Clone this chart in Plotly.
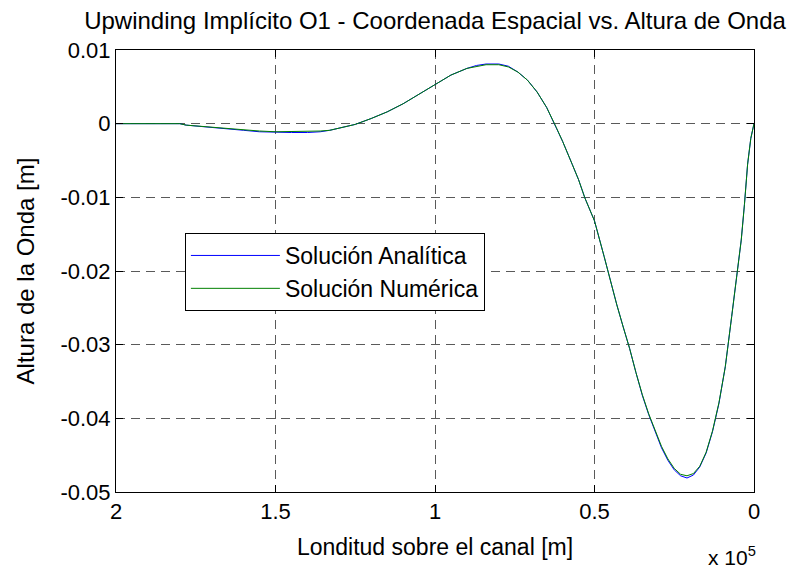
import plotly.graph_objects as go

# Position along the channel (units of 1e5 m) and wave height (m)
x_analitica = [2.00, 1.90, 1.80, 1.78, 1.72, 1.66, 1.60, 1.55, 1.50, 1.45, 1.40, 1.36,
               1.33, 1.29, 1.25, 1.20, 1.15, 1.10, 1.05, 1.00, 0.95, 0.90, 0.87, 0.84,
               0.80, 0.77, 0.74, 0.71, 0.68, 0.65, 0.62, 0.60, 0.57, 0.55, 0.53, 0.50,
               0.47, 0.45, 0.43, 0.41, 0.39, 0.37, 0.35, 0.33, 0.31, 0.29, 0.27, 0.25,
               0.23, 0.21, 0.19, 0.17, 0.15, 0.13, 0.11, 0.09, 0.07, 0.05, 0.04, 0.03,
               0.02, 0.01, 0.00]
y_analitica = [0.0, 0.0, 0.0, -0.0002, -0.0004, -0.0007, -0.0009, -0.0011, -0.0012, -0.0012,
               -0.0012, -0.0011, -0.0009, -0.0005, -0.0001, 0.0007, 0.0016, 0.0027, 0.0040,
               0.0054, 0.0066, 0.0075, 0.0079, 0.0081, 0.0081, 0.0078, 0.0070, 0.0059,
               0.0043, 0.0022, -0.0005, -0.0024, -0.0055, -0.0076, -0.0101, -0.0132,
               -0.0180, -0.0214, -0.0246, -0.0276, -0.0305, -0.0338, -0.0369, -0.0395,
               -0.0418, -0.0440, -0.0457, -0.0470, -0.0478, -0.0481, -0.0477, -0.0466,
               -0.0447, -0.0418, -0.0380, -0.0330, -0.0262, -0.0195, -0.0158, -0.0110,
               -0.0055, -0.0020, 0.0]

x_numerica = list(x_analitica)
y_numerica = [0.0, 0.0, 0.0, -0.0002, -0.0004, -0.0007, -0.0009, -0.0010, -0.0011, -0.0011,
              -0.0011, -0.0010, -0.0009, -0.0005, -0.0001, 0.0007, 0.0016, 0.0027, 0.0040,
              0.0054, 0.0066, 0.0075, 0.0078, 0.0080, 0.0080, 0.0077, 0.0070, 0.0059,
              0.0043, 0.0022, -0.0005, -0.0024, -0.0055, -0.0076, -0.0101, -0.0132,
              -0.0180, -0.0214, -0.0246, -0.0276, -0.0305, -0.0338, -0.0368, -0.0394,
              -0.0417, -0.0438, -0.0455, -0.0468, -0.0476, -0.0478, -0.0475, -0.0465,
              -0.0446, -0.0417, -0.0379, -0.0330, -0.0262, -0.0195, -0.0158, -0.0110,
              -0.0055, -0.0020, 0.0]

x_ticks = [0.0, 0.5, 1.0, 1.5, 2.0]
x_tick_labels = ["0", "0.5", "1", "1.5", "2"]
y_ticks = [-0.05, -0.04, -0.03, -0.02, -0.01, 0.0, 0.01]
y_tick_labels = ["-0.05", "-0.04", "-0.03", "-0.02", "-0.01", "0", "0.01"]

FONT = "Liberation Sans, Arial, sans-serif"

fig = go.Figure()
fig.add_trace(go.Scatter(x=x_analitica, y=y_analitica, mode="lines",
                         name="Solución Analítica",
                         line=dict(color="#0000ff", width=1)))
fig.add_trace(go.Scatter(x=x_numerica, y=y_numerica, mode="lines",
                         name="Solución Numérica",
                         line=dict(color="#008000", width=1)))

axis_common = dict(
    showline=True, linecolor="black", linewidth=1, mirror="ticks",
    ticks="inside", ticklen=7, tickcolor="black", tickwidth=1,
    showgrid=True, gridcolor="#5a5a5a", gridwidth=1.3, griddash="9px,6px",
    zeroline=False,
    tickfont=dict(family=FONT, size=22, color="black"),
)

fig.update_xaxes(
    range=[2.0, 0.0], tickvals=x_ticks, ticktext=x_tick_labels,
    title=dict(text="Londitud sobre el canal [m]",
               font=dict(family=FONT, size=23, color="black"), standoff=15),
    **axis_common,
)
fig.update_yaxes(
    range=[-0.05, 0.01], tickvals=y_ticks, ticktext=y_tick_labels,
    title=dict(text="Altura de la Onda [m]",
               font=dict(family=FONT, size=24, color="black"), standoff=19),
    **axis_common,
)

fig.update_layout(
    width=791, height=572,
    margin=dict(l=116, r=37, t=50, b=80, autoexpand=False),
    paper_bgcolor="white", plot_bgcolor="white",
    title=dict(text="Upwinding Implícito O1 - Coordenada Espacial vs. Altura de Onda",
               font=dict(family=FONT, size=24, color="black"),
               x=0.5, xref="paper", xanchor="center",
               y=1 - 21 / 572, yref="container", yanchor="middle"),
    legend=dict(x=0.108, y=0.586, xanchor="left", yanchor="top",
                bgcolor="white", bordercolor="black", borderwidth=1,
                font=dict(family=FONT, size=23, color="black"),
                itemwidth=89, tracegroupgap=0),
    showlegend=True,
    annotations=[dict(text="x 10<sup>5</sup>", xref="paper", yref="paper",
                      x=1.006, y=-0.145, xanchor="right", yanchor="middle",
                      showarrow=False,
                      font=dict(family=FONT, size=21, color="black"))],
)

fig.write_html("out.html")
